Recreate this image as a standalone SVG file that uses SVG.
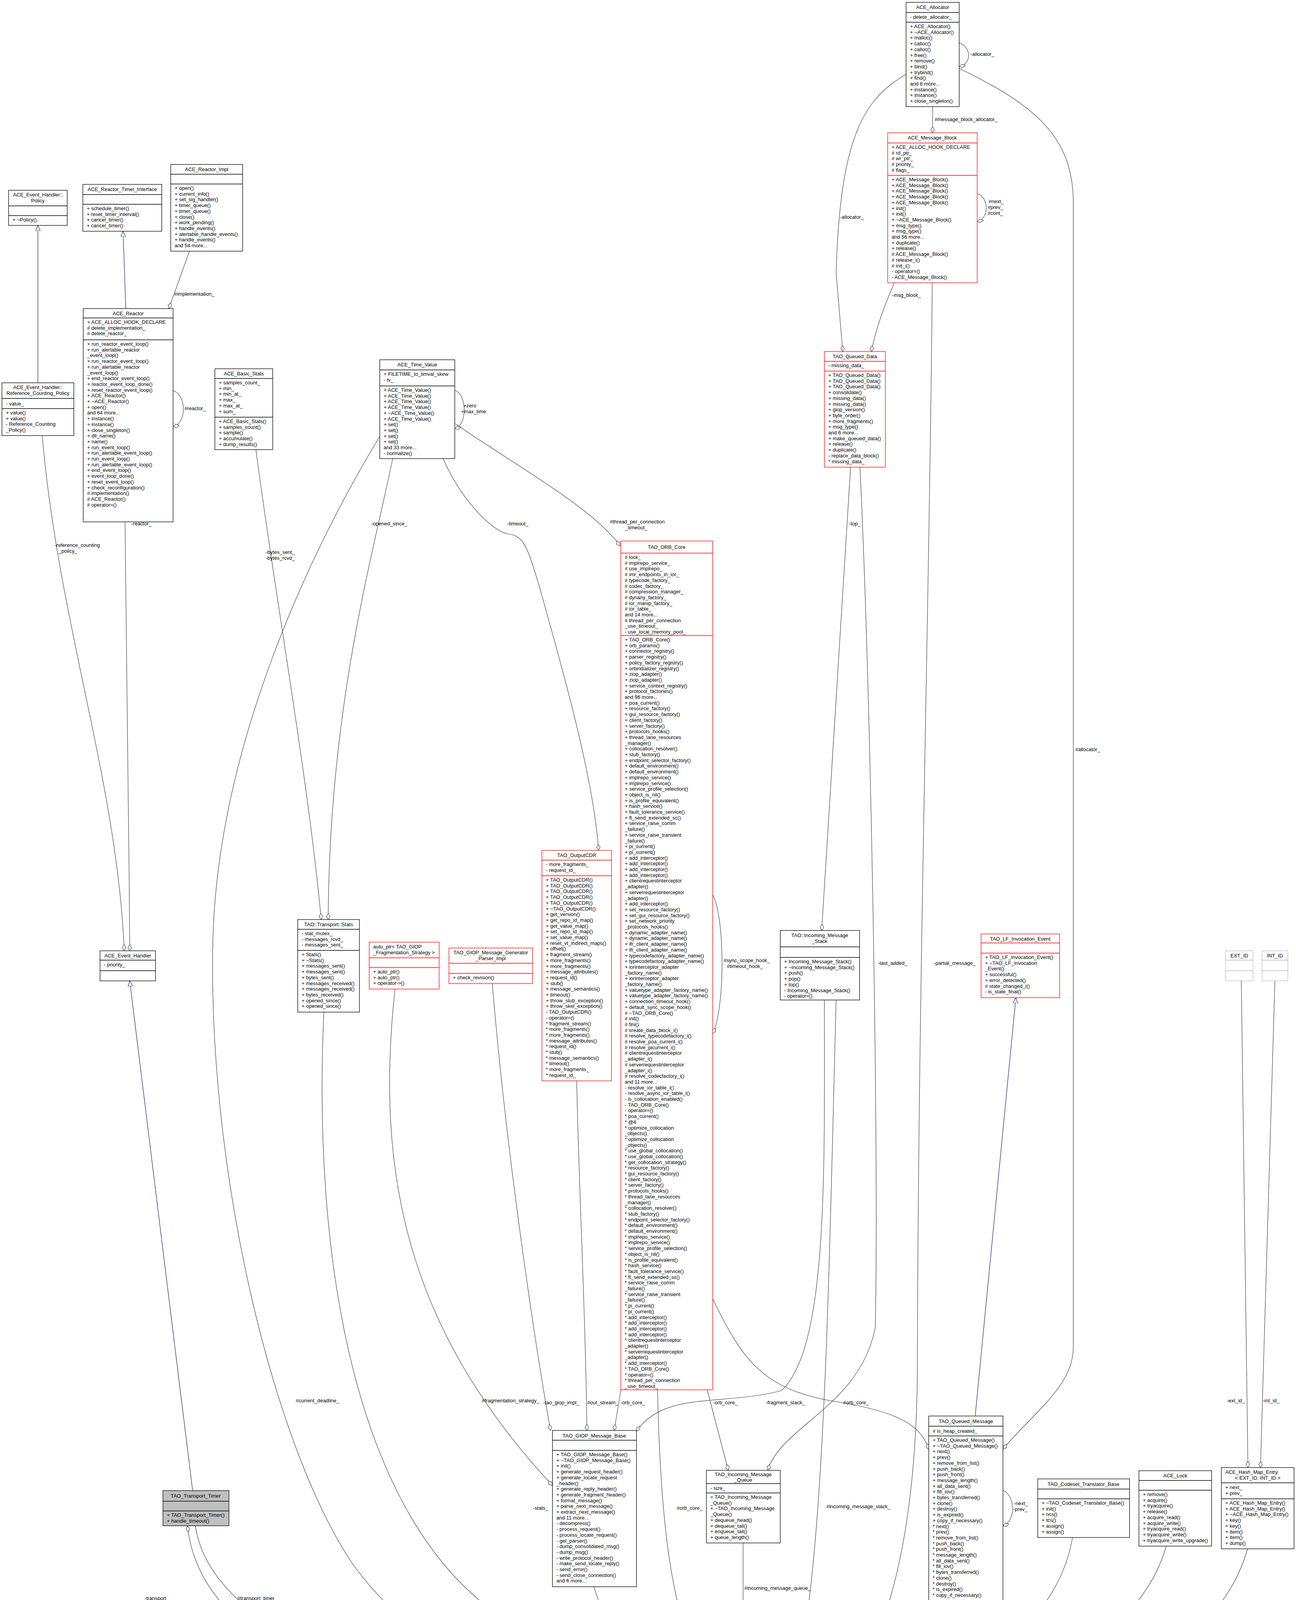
<svg xmlns="http://www.w3.org/2000/svg" width="3317" height="5019" viewBox="0 0 3317 5019">
<defs>
<style>
.b{fill:#fff;stroke:#000;stroke-width:1.3}
.r{fill:#fff;stroke:#ff0000;stroke-width:1.3}
.g{fill:#fff;stroke:#bfbfbf;stroke-width:1.3}
.tg{fill:#bfbfbf;stroke:#000;stroke-width:1.3}
.sb{fill:none;stroke:#000;stroke-width:1.3}
.sr{fill:none;stroke:#ff0000;stroke-width:1.3}
.sg{fill:none;stroke:#bfbfbf;stroke-width:1.3}
text{font-family:"Liberation Sans",Arial,sans-serif;font-size:13px;fill:#000}
.c{text-anchor:middle}
.e{fill:none;stroke:#404040;stroke-width:1.2;marker-end:url(#dia)}
.i{fill:none;stroke:#191970;stroke-width:1.2;marker-end:url(#tri)}
</style>
<marker id="dia" markerUnits="userSpaceOnUse" markerWidth="20" markerHeight="12" refX="16" refY="6" orient="auto"><path d="M0,6 L8,1.5 L16,6 L8,10.5 Z" fill="#fff" stroke="#404040" stroke-width="1.2"/></marker>
<marker id="tri" markerUnits="userSpaceOnUse" markerWidth="16" markerHeight="14" refX="14" refY="7" orient="auto"><path d="M0,1 L14,7 L0,13 Z" fill="#fff" stroke="#191970" stroke-width="1.2"/></marker>
</defs>
<rect width="3317" height="5019" fill="#fff"/>

<g id="connectors">
<path class="i" d="M97,980 L97,577"/>
<path class="i" d="M322,790 L315,592"/>
<path class="i" d="M493,3816 L332,2511"/>
<path class="i" d="M2496,3624 L2600,2554"/>
<path class="e" d="M485,643 L432,790"/>
<text x="446" y="757">#implementation_</text>
<path class="e" d="M443,1000 C478,1010 478,1085 443,1092"/>
<text x="472" y="1050">#reactor_</text>
<path class="e" d="M108,1115 C150,1600 300,2000 318,2434"/>
<text x="140" y="1400">-reference_counting</text><text x="150" y="1415">_policy_</text>
<path class="e" d="M320,1336 C325,1800 330,2100 332,2434"/>
<text x="336" y="1345">-reactor_</text>
<path class="e" d="M655,1151 C700,1500 790,2000 822,2354"/>
<text x="680" y="1418">-bytes_sent_</text><text x="680" y="1433">-bytes_rcvd_</text>
<path class="e" d="M1005,1174 C960,1400 842,1800 840,2354"/>
<text x="950" y="1345">-opened_since_</text>
<path class="e" d="M1164,999 C1196,1010 1196,1090 1164,1097"/>
<text x="1186" y="1043">+zero</text><text x="1180" y="1058">+max_time</text>
<path class="e" d="M972,1117 C800,1400 560,1900 545,2400 C530,3000 700,3700 900,4000 C1150,4350 1600,4420 1800,4430"/>
<text x="757" y="3590">#current_deadline_</text>
<path class="e" d="M1134,1174 C1180,1280 1260,1360 1300,1367 C1340,1370 1350,1400 1380,1500 C1450,1750 1520,2000 1532,2177"/>
<text x="1298" y="1345">-timeout_</text>
<path class="e" d="M1166,1085 C1300,1180 1520,1300 1587,1398"/>
<text x="1561" y="1340">#thread_per_connection</text><text x="1600" y="1355">_timeout_</text>
<path class="e" d="M1476,2767 C1480,3000 1500,3400 1502,3662"/>
<text x="1503" y="3595">#out_stream_</text>
<path class="e" d="M1260,2518 C1300,3000 1380,3500 1409,3662"/>
<text x="1390" y="3595">-tao_giop_impl_</text>
<path class="e" d="M1011,2532 C960,3000 1040,3400 1414,3803"/>
<text x="1233" y="3590">#fragmentation_strategy_</text>
<path class="e" d="M1589,3558 L1572,3662"/>
<text x="1588" y="3595">-orb_core_</text>
<path class="e" d="M2110,2560 C2110,3000 2120,3450 2000,3560 C1850,3600 1700,3560 1629,3664"/>
<text x="1960" y="3595">-fragment_stack_</text>
<path class="e" d="M1810,3558 L1864,3764"/>
<text x="1825" y="3595">-orb_core_</text>
<path class="e" d="M2201,1196 C2230,1800 2250,3000 2240,3400 C2200,3600 2000,3650 1965,3764"/>
<text x="2247" y="2470">-last_added_</text>
<path class="e" d="M2177,1196 L2103,2382"/>
<text x="2173" y="1345">-top_</text>
<path class="e" d="M2289,724 C2260,790 2240,850 2230,900"/>
<text x="2283" y="760">-msg_block_</text>
<path class="e" d="M2319,190 C2220,250 2150,330 2140,700 L2157,900"/>
<text x="2150" y="560">-allocator_</text>
<path class="e" d="M2455,110 C2487,120 2487,165 2455,170"/>
<text x="2484" y="143">-allocator_</text>
<path class="e" d="M2387,273 L2387,340"/>
<text x="2392" y="310">#message_block_allocator_</text>
<path class="e" d="M2501,496 C2532,505 2532,560 2501,567"/>
<text x="2530" y="520">#next_</text><text x="2528" y="535">#prev_</text><text x="2528" y="550">#cont_</text>
<path class="e" d="M2455,175 C2650,270 2747,350 2747,520 L2747,3450 C2747,3550 2640,3620 2567,3710"/>
<text x="2752" y="1923">#allocator_</text>
<path class="e" d="M2386,724 C2380,1500 2350,2500 2348,3500 C2345,4100 2200,4400 2005,4430"/>
<text x="2390" y="2470">-partial_message_</text>
<path class="e" d="M1824,2290 C1856,2350 1856,2580 1824,2646"/>
<text x="1852" y="2463">#sync_scope_hook_</text><text x="1860" y="2478">#timeout_hook_</text>
<path class="e" d="M1824,3325 C1900,3480 1950,3560 2150,3590 C2300,3615 2360,3650 2377,3711"/>
<text x="2158" y="3595">#orb_core_</text>
<path class="e" d="M2140,2560 C2120,3300 2110,4200 2005,4374"/>
<text x="2115" y="3861">#incoming_message_stack_</text>
<path class="e" d="M1902,3950 L1902,4177"/>
<text x="1905" y="4070">#incoming_message_queue_</text>
<path class="e" d="M1683,3558 C1690,3900 1720,4150 1800,4269"/>
<text x="1732" y="3865">#orb_core_</text>
<path class="e" d="M1520,4062 C1560,4200 1700,4340 1800,4372"/>
<text x="1560" y="4165">-messaging_object_</text>
<path class="e" d="M829,2591 C800,3200 900,3900 1300,4150 C1500,4280 1700,4370 1800,4386"/>
<text x="1364" y="3865">-stats_</text>
<path class="e" d="M500,3906 C550,4250 1300,4430 1800,4430"/>
<text x="608" y="4096">#transport_timer_</text>
<path class="e" d="M1800,4430 C1200,4440 520,4300 480,3906"/>
<text x="370" y="4096">-transport_</text>
<path class="e" d="M2394,4097 C2300,4250 2150,4280 2005,4297"/>
<text x="2378" y="4131">#tail_</text><text x="2371" y="4146">#head_</text>
<path class="e" d="M2745,3936 C2700,4200 2400,4370 2005,4394"/>
<text x="2612" y="4131">-char_translator_</text><text x="2612" y="4146">-wchar_translator_</text>
<path class="e" d="M2985,3958 C2900,4250 2500,4400 2005,4413"/>
<text x="2864" y="4138">#handler_lock_</text>
<path class="e" d="M3193,3965 C3100,4300 2600,4440 2005,4441"/>
<text x="3065" y="4138">#cache_map_entry_</text>
<path class="e" d="M3177,2511 L3194,3757"/>
<text x="3140" y="3590">-ext_id_</text>
<path class="e" d="M3263,2511 L3226,3757"/>
<text x="3232" y="3590">-int_id_</text>
<path class="e" d="M1800,4630 C1770,4680 1760,4740 1762,4782"/>
<text x="1770" y="4745">#transport_</text>
<path class="e" d="M1830,4782 C1840,4760 1845,4730 1848,4707"/>
<text x="1847" y="4745">#ws_</text>
<path class="e" d="M1920,4707 C1925,4730 1935,4755 1938,4775"/>
<text x="1937" y="4745">#transport_</text>
<path class="e" d="M2013,4775 C2010,4750 2006,4725 2002,4707"/>
<text x="2012" y="4745">#tms_</text>
</g>

<g id="policy"><rect class="b" x="22" y="487" width="150" height="90"/><path class="sb" d="M22,527H172M22,552H172"/>
<text class="c" x="97" y="503">ACE_Event_Handler::</text><text class="c" x="97" y="518">Policy</text>
<text x="32" y="567">+ ~Policy()</text></g>

<g id="timer_interface"><rect class="b" x="212" y="472" width="202" height="120"/><path class="sb" d="M212,498H414M212,523H414"/>
<text class="c" x="313" y="489">ACE_Reactor_Timer_Interface</text>
<text x="222" y="538"><tspan x="222" dy="0">+ schedule_timer()</tspan><tspan x="222" dy="14.7">+ reset_timer_interval()</tspan><tspan x="222" dy="14.7">+ cancel_timer()</tspan><tspan x="222" dy="14.7">+ cancel_timer()</tspan></text></g>

<g id="reactor_impl"><rect class="b" x="437" y="421" width="184" height="222"/><path class="sb" d="M437,446H621M437,471H621"/>
<text class="c" x="529" y="438">ACE_Reactor_Impl</text>
<text x="447" y="486"><tspan x="447" dy="0">+ open()</tspan><tspan x="447" dy="14.7">+ current_info()</tspan><tspan x="447" dy="14.7">+ set_sig_handler()</tspan><tspan x="447" dy="14.7">+ timer_queue()</tspan><tspan x="447" dy="14.7">+ timer_queue()</tspan><tspan x="447" dy="14.7">+ close()</tspan><tspan x="447" dy="14.7">+ work_pending()</tspan><tspan x="447" dy="14.7">+ handle_events()</tspan><tspan x="447" dy="14.7">+ alertable_handle_events()</tspan><tspan x="447" dy="14.7">+ handle_events()</tspan><tspan x="447" dy="14.7">and 54 more...</tspan></text></g>

<g id="ace_reactor"><rect class="b" x="213" y="790" width="230" height="546"/><path class="sb" d="M213,814H443M213,870H443"/>
<text class="c" x="328" y="807">ACE_Reactor</text>
<text x="223" y="829"><tspan x="223" dy="0">+ ACE_ALLOC_HOOK_DECLARE</tspan><tspan x="223" dy="14.7"># delete_implementation_</tspan><tspan x="223" dy="14.7"># delete_reactor_</tspan></text>
<text x="223" y="885"><tspan x="223" dy="0">+ run_reactor_event_loop()</tspan><tspan x="223" dy="14.7">+ run_alertable_reactor</tspan><tspan x="223" dy="14.7">_event_loop()</tspan><tspan x="223" dy="14.7">+ run_reactor_event_loop()</tspan><tspan x="223" dy="14.7">+ run_alertable_reactor</tspan><tspan x="223" dy="14.7">_event_loop()</tspan><tspan x="223" dy="14.7">+ end_reactor_event_loop()</tspan><tspan x="223" dy="14.7">+ reactor_event_loop_done()</tspan><tspan x="223" dy="14.7">+ reset_reactor_event_loop()</tspan><tspan x="223" dy="14.7">+ ACE_Reactor()</tspan><tspan x="223" dy="14.7">+ ~ACE_Reactor()</tspan><tspan x="223" dy="14.7">+ open()</tspan><tspan x="223" dy="14.7">and 64 more...</tspan><tspan x="223" dy="14.7">+ instance()</tspan><tspan x="223" dy="14.7">+ instance()</tspan><tspan x="223" dy="14.7">+ close_singleton()</tspan><tspan x="223" dy="14.7">+ dll_name()</tspan><tspan x="223" dy="14.7">+ name()</tspan><tspan x="223" dy="14.7">+ run_event_loop()</tspan><tspan x="223" dy="14.7">+ run_alertable_event_loop()</tspan><tspan x="223" dy="14.7">+ run_event_loop()</tspan><tspan x="223" dy="14.7">+ run_alertable_event_loop()</tspan><tspan x="223" dy="14.7">+ end_event_loop()</tspan><tspan x="223" dy="14.7">+ event_loop_done()</tspan><tspan x="223" dy="14.7">+ reset_event_loop()</tspan><tspan x="223" dy="14.7">+ check_reconfiguration()</tspan><tspan x="223" dy="14.7"># implementation()</tspan><tspan x="223" dy="14.7"># ACE_Reactor()</tspan><tspan x="223" dy="14.7"># operator=()</tspan></text></g>

<g id="ref_counting_policy"><rect class="b" x="5" y="980" width="184" height="135"/><path class="sb" d="M5,1020H189M5,1046H189"/>
<text class="c" x="97" y="996">ACE_Event_Handler::</text><text class="c" x="97" y="1011">Reference_Counting_Policy</text>
<text x="15" y="1038">- value_</text>
<text x="15" y="1061"><tspan x="15" dy="0">+ value()</tspan><tspan x="15" dy="14.7">+ value()</tspan><tspan x="15" dy="14.7">- Reference_Counting</tspan><tspan x="15" dy="14.7">_Policy()</tspan></text></g>

<g id="basic_stats"><rect class="b" x="550" y="944" width="148" height="207"/><path class="sb" d="M550,969H698M550,1068H698"/>
<text class="c" x="624" y="961">ACE_Basic_Stats</text>
<text x="560" y="984"><tspan x="560" dy="0">+ samples_count_</tspan><tspan x="560" dy="14.7">+ min_</tspan><tspan x="560" dy="14.7">+ min_at_</tspan><tspan x="560" dy="14.7">+ max_</tspan><tspan x="560" dy="14.7">+ max_at_</tspan><tspan x="560" dy="14.7">+ sum_</tspan></text>
<text x="560" y="1083"><tspan x="560" dy="0">+ ACE_Basic_Stats()</tspan><tspan x="560" dy="14.7">+ samples_count()</tspan><tspan x="560" dy="14.7">+ sample()</tspan><tspan x="560" dy="14.7">+ accumulate()</tspan><tspan x="560" dy="14.7">+ dump_results()</tspan></text></g>

<g id="time_value"><rect class="b" x="972" y="921" width="192" height="253"/><path class="sb" d="M972,947H1164M972,988H1164"/>
<text class="c" x="1068" y="938">ACE_Time_Value</text>
<text x="982" y="962"><tspan x="982" dy="0">+ FILETIME_to_timval_skew</tspan><tspan x="982" dy="14.7">- tv_</tspan></text>
<text x="982" y="1003"><tspan x="982" dy="0">+ ACE_Time_Value()</tspan><tspan x="982" dy="14.7">+ ACE_Time_Value()</tspan><tspan x="982" dy="14.7">+ ACE_Time_Value()</tspan><tspan x="982" dy="14.7">+ ACE_Time_Value()</tspan><tspan x="982" dy="14.7">+ ~ACE_Time_Value()</tspan><tspan x="982" dy="14.7">+ ACE_Time_Value()</tspan><tspan x="982" dy="14.7">+ set()</tspan><tspan x="982" dy="14.7">+ set()</tspan><tspan x="982" dy="14.7">+ set()</tspan><tspan x="982" dy="14.7">+ set()</tspan><tspan x="982" dy="14.7">and 33 more...</tspan><tspan x="982" dy="14.7">- normalize()</tspan></text></g>

<g id="allocator"><rect class="b" x="2319" y="6" width="136" height="267"/><path class="sb" d="M2319,32H2455M2319,57H2455"/>
<text class="c" x="2387" y="23">ACE_Allocator</text>
<text x="2329" y="48">- delete_allocator_</text>
<text x="2329" y="72"><tspan x="2329" dy="0">+ ACE_Allocator()</tspan><tspan x="2329" dy="14.7">+ ~ACE_Allocator()</tspan><tspan x="2329" dy="14.7">+ malloc()</tspan><tspan x="2329" dy="14.7">+ calloc()</tspan><tspan x="2329" dy="14.7">+ calloc()</tspan><tspan x="2329" dy="14.7">+ free()</tspan><tspan x="2329" dy="14.7">+ remove()</tspan><tspan x="2329" dy="14.7">+ bind()</tspan><tspan x="2329" dy="14.7">+ trybind()</tspan><tspan x="2329" dy="14.7">+ find()</tspan><tspan x="2329" dy="14.7">and 8 more...</tspan><tspan x="2329" dy="14.7">+ instance()</tspan><tspan x="2329" dy="14.7">+ instance()</tspan><tspan x="2329" dy="14.7">+ close_singleton()</tspan></text></g>

<g id="message_block"><rect class="r" x="2272" y="340" width="229" height="384"/><path class="sr" d="M2272,366H2501M2272,449H2501"/>
<text class="c" x="2386" y="357">ACE_Message_Block</text>
<text x="2282" y="381"><tspan x="2282" dy="0">+ ACE_ALLOC_HOOK_DECLARE</tspan><tspan x="2282" dy="14.7"># rd_ptr_</tspan><tspan x="2282" dy="14.7"># wr_ptr_</tspan><tspan x="2282" dy="14.7"># priority_</tspan><tspan x="2282" dy="14.7"># flags_</tspan></text>
<text x="2282" y="464"><tspan x="2282" dy="0">+ ACE_Message_Block()</tspan><tspan x="2282" dy="14.7">+ ACE_Message_Block()</tspan><tspan x="2282" dy="14.7">+ ACE_Message_Block()</tspan><tspan x="2282" dy="14.7">+ ACE_Message_Block()</tspan><tspan x="2282" dy="14.7">+ ACE_Message_Block()</tspan><tspan x="2282" dy="14.7">+ init()</tspan><tspan x="2282" dy="14.7">+ init()</tspan><tspan x="2282" dy="14.7">+ ~ACE_Message_Block()</tspan><tspan x="2282" dy="14.7">+ msg_type()</tspan><tspan x="2282" dy="14.7">+ msg_type()</tspan><tspan x="2282" dy="14.7">and 56 more...</tspan><tspan x="2282" dy="14.7">+ duplicate()</tspan><tspan x="2282" dy="14.7">+ release()</tspan><tspan x="2282" dy="14.7"># ACE_Message_Block()</tspan><tspan x="2282" dy="14.7"># release_i()</tspan><tspan x="2282" dy="14.7"># init_i()</tspan><tspan x="2282" dy="14.7">- operator=()</tspan><tspan x="2282" dy="14.7">- ACE_Message_Block()</tspan></text></g>

<g id="queued_data"><rect class="r" x="2110" y="900" width="156" height="296"/><path class="sr" d="M2110,925H2266M2110,950H2266"/>
<text class="c" x="2188" y="917">TAO_Queued_Data</text>
<text x="2120" y="940">- missing_data_</text>
<text x="2120" y="965"><tspan x="2120" dy="0">+ TAO_Queued_Data()</tspan><tspan x="2120" dy="14.7">+ TAO_Queued_Data()</tspan><tspan x="2120" dy="14.7">+ TAO_Queued_Data()</tspan><tspan x="2120" dy="14.7">+ consolidate()</tspan><tspan x="2120" dy="14.7">+ missing_data()</tspan><tspan x="2120" dy="14.7">+ missing_data()</tspan><tspan x="2120" dy="14.7">+ giop_version()</tspan><tspan x="2120" dy="14.7">+ byte_order()</tspan><tspan x="2120" dy="14.7">+ more_fragments()</tspan><tspan x="2120" dy="14.7">+ msg_type()</tspan><tspan x="2120" dy="14.7">and 6 more...</tspan><tspan x="2120" dy="14.7">+ make_queued_data()</tspan><tspan x="2120" dy="14.7">+ release()</tspan><tspan x="2120" dy="14.7">+ duplicate()</tspan><tspan x="2120" dy="14.7">- replace_data_block()</tspan><tspan x="2120" dy="14.7">* missing_data_</tspan></text></g>

<g id="orb_core"><rect class="r" x="1589" y="1385" width="235" height="2173"/><path class="sr" d="M1589,1416H1824M1589,1627H1824"/>
<text class="c" x="1706" y="1405">TAO_ORB_Core</text>
<text x="1599" y="1431"><tspan x="1599" dy="0"># lock_</tspan><tspan x="1599" dy="14.7"># implrepo_service_</tspan><tspan x="1599" dy="14.7"># use_implrepo_</tspan><tspan x="1599" dy="14.7"># imr_endpoints_in_ior_</tspan><tspan x="1599" dy="14.7"># typecode_factory_</tspan><tspan x="1599" dy="14.7"># codec_factory_</tspan><tspan x="1599" dy="14.7"># compression_manager_</tspan><tspan x="1599" dy="14.7"># dynany_factory_</tspan><tspan x="1599" dy="14.7"># ior_manip_factory_</tspan><tspan x="1599" dy="14.7"># ior_table_</tspan><tspan x="1599" dy="14.7">and 14 more...</tspan><tspan x="1599" dy="14.7"># thread_per_connection</tspan><tspan x="1599" dy="14.7">_use_timeout_</tspan><tspan x="1599" dy="14.7">- use_local_memory_pool_</tspan></text>
<text x="1599" y="1642"><tspan x="1599" dy="0">+ TAO_ORB_Core()</tspan><tspan x="1599" dy="14.7">+ orb_params()</tspan><tspan x="1599" dy="14.7">+ connector_registry()</tspan><tspan x="1599" dy="14.7">+ parser_registry()</tspan><tspan x="1599" dy="14.7">+ policy_factory_registry()</tspan><tspan x="1599" dy="14.7">+ orbinitializer_registry()</tspan><tspan x="1599" dy="14.7">+ ziop_adapter()</tspan><tspan x="1599" dy="14.7">+ ziop_adapter()</tspan><tspan x="1599" dy="14.7">+ service_context_registry()</tspan><tspan x="1599" dy="14.7">+ protocol_factories()</tspan><tspan x="1599" dy="14.7">and 96 more...</tspan><tspan x="1599" dy="14.7">+ poa_current()</tspan><tspan x="1599" dy="14.7">+ resource_factory()</tspan><tspan x="1599" dy="14.7">+ gui_resource_factory()</tspan><tspan x="1599" dy="14.7">+ client_factory()</tspan><tspan x="1599" dy="14.7">+ server_factory()</tspan><tspan x="1599" dy="14.7">+ protocols_hooks()</tspan><tspan x="1599" dy="14.7">+ thread_lane_resources</tspan><tspan x="1599" dy="14.7">_manager()</tspan><tspan x="1599" dy="14.7">+ collocation_resolver()</tspan><tspan x="1599" dy="14.7">+ stub_factory()</tspan><tspan x="1599" dy="14.7">+ endpoint_selector_factory()</tspan><tspan x="1599" dy="14.7">+ default_environment()</tspan><tspan x="1599" dy="14.7">+ default_environment()</tspan><tspan x="1599" dy="14.7">+ implrepo_service()</tspan><tspan x="1599" dy="14.7">+ implrepo_service()</tspan><tspan x="1599" dy="14.7">+ service_profile_selection()</tspan><tspan x="1599" dy="14.7">+ object_is_nil()</tspan><tspan x="1599" dy="14.7">+ is_profile_equivalent()</tspan><tspan x="1599" dy="14.7">+ hash_service()</tspan><tspan x="1599" dy="14.7">+ fault_tolerance_service()</tspan><tspan x="1599" dy="14.7">+ ft_send_extended_sc()</tspan><tspan x="1599" dy="14.7">+ service_raise_comm</tspan><tspan x="1599" dy="14.7">_failure()</tspan><tspan x="1599" dy="14.7">+ service_raise_transient</tspan><tspan x="1599" dy="14.7">_failure()</tspan><tspan x="1599" dy="14.7">+ pi_current()</tspan><tspan x="1599" dy="14.7">+ pi_current()</tspan><tspan x="1599" dy="14.7">+ add_interceptor()</tspan><tspan x="1599" dy="14.7">+ add_interceptor()</tspan><tspan x="1599" dy="14.7">+ add_interceptor()</tspan><tspan x="1599" dy="14.7">+ add_interceptor()</tspan><tspan x="1599" dy="14.7">+ clientrequestinterceptor</tspan><tspan x="1599" dy="14.7">_adapter()</tspan><tspan x="1599" dy="14.7">+ serverrequestinterceptor</tspan><tspan x="1599" dy="14.7">_adapter()</tspan><tspan x="1599" dy="14.7">+ add_interceptor()</tspan><tspan x="1599" dy="14.7">+ set_resource_factory()</tspan><tspan x="1599" dy="14.7">+ set_gui_resource_factory()</tspan><tspan x="1599" dy="14.7">+ set_network_priority</tspan><tspan x="1599" dy="14.7">_protocols_hooks()</tspan><tspan x="1599" dy="14.7">+ dynamic_adapter_name()</tspan><tspan x="1599" dy="14.7">+ dynamic_adapter_name()</tspan><tspan x="1599" dy="14.7">+ ifr_client_adapter_name()</tspan><tspan x="1599" dy="14.7">+ ifr_client_adapter_name()</tspan><tspan x="1599" dy="14.7">+ typecodefactory_adapter_name()</tspan><tspan x="1599" dy="14.7">+ typecodefactory_adapter_name()</tspan><tspan x="1599" dy="14.7">+ iorinterceptor_adapter</tspan><tspan x="1599" dy="14.7">_factory_name()</tspan><tspan x="1599" dy="14.7">+ iorinterceptor_adapter</tspan><tspan x="1599" dy="14.7">_factory_name()</tspan><tspan x="1599" dy="14.7">+ valuetype_adapter_factory_name()</tspan><tspan x="1599" dy="14.7">+ valuetype_adapter_factory_name()</tspan><tspan x="1599" dy="14.7">+ connection_timeout_hook()</tspan><tspan x="1599" dy="14.7">+ default_sync_scope_hook()</tspan><tspan x="1599" dy="14.7"># ~TAO_ORB_Core()</tspan><tspan x="1599" dy="14.7"># init()</tspan><tspan x="1599" dy="14.7"># fini()</tspan><tspan x="1599" dy="14.7"># create_data_block_i()</tspan><tspan x="1599" dy="14.7"># resolve_typecodefactory_i()</tspan><tspan x="1599" dy="14.7"># resolve_poa_current_i()</tspan><tspan x="1599" dy="14.7"># resolve_picurrent_i()</tspan><tspan x="1599" dy="14.7"># clientrequestinterceptor</tspan><tspan x="1599" dy="14.7">_adapter_i()</tspan><tspan x="1599" dy="14.7"># serverrequestinterceptor</tspan><tspan x="1599" dy="14.7">_adapter_i()</tspan><tspan x="1599" dy="14.7"># resolve_codecfactory_i()</tspan><tspan x="1599" dy="14.7">and 11 more...</tspan><tspan x="1599" dy="14.7">- resolve_ior_table_i()</tspan><tspan x="1599" dy="14.7">- resolve_async_ior_table_i()</tspan><tspan x="1599" dy="14.7">- is_collocation_enabled()</tspan><tspan x="1599" dy="14.7">- TAO_ORB_Core()</tspan><tspan x="1599" dy="14.7">- operator=()</tspan><tspan x="1599" dy="14.7">* poa_current()</tspan><tspan x="1599" dy="14.7">* @4</tspan><tspan x="1599" dy="14.7">* optimize_collocation</tspan><tspan x="1599" dy="14.7">_objects()</tspan><tspan x="1599" dy="14.7">* optimize_collocation</tspan><tspan x="1599" dy="14.7">_objects()</tspan><tspan x="1599" dy="14.7">* use_global_collocation()</tspan><tspan x="1599" dy="14.7">* use_global_collocation()</tspan><tspan x="1599" dy="14.7">* get_collocation_strategy()</tspan><tspan x="1599" dy="14.7">* resource_factory()</tspan><tspan x="1599" dy="14.7">* gui_resource_factory()</tspan><tspan x="1599" dy="14.7">* client_factory()</tspan><tspan x="1599" dy="14.7">* server_factory()</tspan><tspan x="1599" dy="14.7">* protocols_hooks()</tspan><tspan x="1599" dy="14.7">* thread_lane_resources</tspan><tspan x="1599" dy="14.7">_manager()</tspan><tspan x="1599" dy="14.7">* collocation_resolver()</tspan><tspan x="1599" dy="14.7">* stub_factory()</tspan><tspan x="1599" dy="14.7">* endpoint_selector_factory()</tspan><tspan x="1599" dy="14.7">* default_environment()</tspan><tspan x="1599" dy="14.7">* default_environment()</tspan><tspan x="1599" dy="14.7">* implrepo_service()</tspan><tspan x="1599" dy="14.7">* implrepo_service()</tspan><tspan x="1599" dy="14.7">* service_profile_selection()</tspan><tspan x="1599" dy="14.7">* object_is_nil()</tspan><tspan x="1599" dy="14.7">* is_profile_equivalent()</tspan><tspan x="1599" dy="14.7">* hash_service()</tspan><tspan x="1599" dy="14.7">* fault_tolerance_service()</tspan><tspan x="1599" dy="14.7">* ft_send_extended_sc()</tspan><tspan x="1599" dy="14.7">* service_raise_comm</tspan><tspan x="1599" dy="14.7">_failure()</tspan><tspan x="1599" dy="14.7">* service_raise_transient</tspan><tspan x="1599" dy="14.7">_failure()</tspan><tspan x="1599" dy="14.7">* pi_current()</tspan><tspan x="1599" dy="14.7">* pi_current()</tspan><tspan x="1599" dy="14.7">* add_interceptor()</tspan><tspan x="1599" dy="14.7">* add_interceptor()</tspan><tspan x="1599" dy="14.7">* add_interceptor()</tspan><tspan x="1599" dy="14.7">* add_interceptor()</tspan><tspan x="1599" dy="14.7">* clientrequestinterceptor</tspan><tspan x="1599" dy="14.7">_adapter()</tspan><tspan x="1599" dy="14.7">* serverrequestinterceptor</tspan><tspan x="1599" dy="14.7">_adapter()</tspan><tspan x="1599" dy="14.7">* add_interceptor()</tspan><tspan x="1599" dy="14.7">* TAO_ORB_Core()</tspan><tspan x="1599" dy="14.7">* operator=()</tspan><tspan x="1599" dy="14.7">* thread_per_connection</tspan><tspan x="1599" dy="14.7">_use_timeout_</tspan></text></g>

<g id="output_cdr"><rect class="r" x="1387" y="2177" width="178" height="590"/><path class="sr" d="M1387,2202H1565M1387,2242H1565"/>
<text class="c" x="1476" y="2194">TAO_OutputCDR</text>
<text x="1397" y="2217"><tspan x="1397" dy="0">- more_fragments_</tspan><tspan x="1397" dy="14.7">- request_id_</tspan></text>
<text x="1397" y="2257"><tspan x="1397" dy="0">+ TAO_OutputCDR()</tspan><tspan x="1397" dy="14.7">+ TAO_OutputCDR()</tspan><tspan x="1397" dy="14.7">+ TAO_OutputCDR()</tspan><tspan x="1397" dy="14.7">+ TAO_OutputCDR()</tspan><tspan x="1397" dy="14.7">+ TAO_OutputCDR()</tspan><tspan x="1397" dy="14.7">+ ~TAO_OutputCDR()</tspan><tspan x="1397" dy="14.7">+ get_version()</tspan><tspan x="1397" dy="14.7">+ get_repo_id_map()</tspan><tspan x="1397" dy="14.7">+ get_value_map()</tspan><tspan x="1397" dy="14.7">+ set_repo_id_map()</tspan><tspan x="1397" dy="14.7">+ set_value_map()</tspan><tspan x="1397" dy="14.7">+ reset_vt_indirect_maps()</tspan><tspan x="1397" dy="14.7">+ offset()</tspan><tspan x="1397" dy="14.7">+ fragment_stream()</tspan><tspan x="1397" dy="14.7">+ more_fragments()</tspan><tspan x="1397" dy="14.7">+ more_fragments()</tspan><tspan x="1397" dy="14.7">+ message_attributes()</tspan><tspan x="1397" dy="14.7">+ request_id()</tspan><tspan x="1397" dy="14.7">+ stub()</tspan><tspan x="1397" dy="14.7">+ message_semantics()</tspan><tspan x="1397" dy="14.7">+ timeout()</tspan><tspan x="1397" dy="14.7">+ throw_stub_exception()</tspan><tspan x="1397" dy="14.7">+ throw_skel_exception()</tspan><tspan x="1397" dy="14.7">- TAO_OutputCDR()</tspan><tspan x="1397" dy="14.7">- operator=()</tspan><tspan x="1397" dy="14.7">* fragment_stream()</tspan><tspan x="1397" dy="14.7">* more_fragments()</tspan><tspan x="1397" dy="14.7">* more_fragments()</tspan><tspan x="1397" dy="14.7">* message_attributes()</tspan><tspan x="1397" dy="14.7">* request_id()</tspan><tspan x="1397" dy="14.7">* stub()</tspan><tspan x="1397" dy="14.7">* message_semantics()</tspan><tspan x="1397" dy="14.7">* timeout()</tspan><tspan x="1397" dy="14.7">* more_fragments_</tspan><tspan x="1397" dy="14.7">* request_id_</tspan></text></g>

<g id="transport_stats"><rect class="b" x="762" y="2354" width="158" height="237"/><path class="sb" d="M762,2379H920M762,2433H920"/>
<text class="c" x="841" y="2371">TAO::Transport::Stats</text>
<text x="772" y="2394"><tspan x="772" dy="0">- stat_mutex_</tspan><tspan x="772" dy="14.7">- messages_rcvd_</tspan><tspan x="772" dy="14.7">- messages_sent_</tspan></text>
<text x="772" y="2448"><tspan x="772" dy="0">+ Stats()</tspan><tspan x="772" dy="14.7">+ ~Stats()</tspan><tspan x="772" dy="14.7">+ messages_sent()</tspan><tspan x="772" dy="14.7">+ messages_sent()</tspan><tspan x="772" dy="14.7">+ bytes_sent()</tspan><tspan x="772" dy="14.7">+ messages_received()</tspan><tspan x="772" dy="14.7">+ messages_received()</tspan><tspan x="772" dy="14.7">+ bytes_received()</tspan><tspan x="772" dy="14.7">+ opened_since()</tspan><tspan x="772" dy="14.7">+ opened_since()</tspan></text></g>

<g id="auto_ptr"><rect class="r" x="945" y="2412" width="179" height="120"/><path class="sr" d="M945,2452H1124M945,2477H1124"/>
<text x="955" y="2428">auto_ptr&lt; TAO_GIOP</text><text x="955" y="2443">_Fragmentation_Strategy &gt;</text>
<text x="955" y="2492"><tspan x="955" dy="0">+ auto_ptr()</tspan><tspan x="955" dy="14.7">+ auto_ptr()</tspan><tspan x="955" dy="14.7">+ operator-&gt;()</tspan></text></g>

<g id="generator_parser"><rect class="r" x="1149" y="2427" width="214" height="91"/><path class="sr" d="M1149,2466H1363M1149,2492H1363"/>
<text class="c" x="1256" y="2443">TAO_GIOP_Message_Generator</text><text class="c" x="1256" y="2458">_Parser_Impl</text>
<text x="1159" y="2507">+ check_revision()</text></g>

<g id="event_handler"><rect class="b" x="256" y="2434" width="142" height="77"/><path class="sb" d="M256,2458H398M256,2485H398"/>
<text class="c" x="327" y="2451">ACE_Event_Handler</text>
<text x="266" y="2474">- priority_</text></g>

<g id="incoming_message_stack"><rect class="b" x="1997" y="2382" width="203" height="178"/><path class="sb" d="M1997,2424H2200M1997,2451H2200"/>
<text class="c" x="2098" y="2399">TAO::Incoming_Message</text><text class="c" x="2098" y="2414">_Stack</text>
<text x="2007" y="2466"><tspan x="2007" dy="0">+ Incoming_Message_Stack()</tspan><tspan x="2007" dy="14.7">+ ~Incoming_Message_Stack()</tspan><tspan x="2007" dy="14.7">+ push()</tspan><tspan x="2007" dy="14.7">+ pop()</tspan><tspan x="2007" dy="14.7">+ top()</tspan><tspan x="2007" dy="14.7">- Incoming_Message_Stack()</tspan><tspan x="2007" dy="14.7">- operator=()</tspan></text></g>

<g id="lf_invocation_event"><rect class="r" x="2511" y="2391" width="201" height="163"/><path class="sr" d="M2511,2414H2712M2511,2440H2712"/>
<text class="c" x="2611" y="2408">TAO_LF_Invocation_Event</text>
<text x="2521" y="2455"><tspan x="2521" dy="0">+ TAO_LF_Invocation_Event()</tspan><tspan x="2521" dy="14.7">+ ~TAO_LF_Invocation</tspan><tspan x="2521" dy="14.7">_Event()</tspan><tspan x="2521" dy="14.7">+ successful()</tspan><tspan x="2521" dy="14.7">+ error_detected()</tspan><tspan x="2521" dy="14.7"># state_changed_i()</tspan><tspan x="2521" dy="14.7">- is_state_final()</tspan></text></g>

<g id="ext_id"><rect class="g" x="3137" y="2434" width="70" height="77"/><path class="sg" d="M3137,2458H3207M3137,2485H3207"/>
<text class="c" x="3172" y="2451">EXT_ID</text></g>
<g id="int_id"><rect class="g" x="3230" y="2434" width="66" height="77"/><path class="sg" d="M3230,2458H3296M3230,2485H3296"/>
<text class="c" x="3263" y="2451">INT_ID</text></g>

<g id="giop_message_base"><rect class="b" x="1414" y="3662" width="215" height="400"/><path class="sb" d="M1414,3687H1629M1414,3713H1629"/>
<text class="c" x="1521" y="3680">TAO_GIOP_Message_Base</text>
<text x="1424" y="3728"><tspan x="1424" dy="0">+ TAO_GIOP_Message_Base()</tspan><tspan x="1424" dy="14.7">+ ~TAO_GIOP_Message_Base()</tspan><tspan x="1424" dy="14.7">+ init()</tspan><tspan x="1424" dy="14.7">+ generate_request_header()</tspan><tspan x="1424" dy="14.7">+ generate_locate_request</tspan><tspan x="1424" dy="14.7">_header()</tspan><tspan x="1424" dy="14.7">+ generate_reply_header()</tspan><tspan x="1424" dy="14.7">+ generate_fragment_header()</tspan><tspan x="1424" dy="14.7">+ format_message()</tspan><tspan x="1424" dy="14.7">+ parse_next_message()</tspan><tspan x="1424" dy="14.7">+ extract_next_message()</tspan><tspan x="1424" dy="14.7">and 11 more...</tspan><tspan x="1424" dy="14.7">- decompress()</tspan><tspan x="1424" dy="14.7">- process_request()</tspan><tspan x="1424" dy="14.7">- process_locate_request()</tspan><tspan x="1424" dy="14.7">- get_parser()</tspan><tspan x="1424" dy="14.7">- dump_consolidated_msg()</tspan><tspan x="1424" dy="14.7">- dump_msg()</tspan><tspan x="1424" dy="14.7">- write_protocol_header()</tspan><tspan x="1424" dy="14.7">- make_send_locate_reply()</tspan><tspan x="1424" dy="14.7">- send_error()</tspan><tspan x="1424" dy="14.7">- send_close_connection()</tspan><tspan x="1424" dy="14.7">and 6 more...</tspan></text></g>

<g id="incoming_message_queue"><rect class="b" x="1808" y="3764" width="189" height="186"/><path class="sb" d="M1808,3798H1997M1808,3822H1997"/>
<text class="c" x="1902" y="3779">TAO_Incoming_Message</text><text class="c" x="1902" y="3793">_Queue</text>
<text x="1818" y="3814">- size_</text>
<text x="1818" y="3837"><tspan x="1818" dy="0">+ TAO_Incoming_Message</tspan><tspan x="1818" dy="14.7">_Queue()</tspan><tspan x="1818" dy="14.7">+ ~TAO_Incoming_Message</tspan><tspan x="1818" dy="14.7">_Queue()</tspan><tspan x="1818" dy="14.7">+ dequeue_head()</tspan><tspan x="1818" dy="14.7">+ dequeue_tail()</tspan><tspan x="1818" dy="14.7">+ enqueue_tail()</tspan><tspan x="1818" dy="14.7">+ queue_length()</tspan></text></g>

<g id="transport_timer"><rect class="tg" x="417" y="3816" width="169" height="90"/><path class="sb" d="M417,3843H586M417,3868H586"/>
<text class="c" x="501" y="3834">TAO_Transport_Timer</text>
<text x="427" y="3883"><tspan x="427" dy="0">+ TAO_Transport_Timer()</tspan><tspan x="427" dy="14.7">+ handle_timeout()</tspan></text></g>

<g id="queued_message"><rect class="b" x="2377" y="3625" width="190" height="472"/><path class="sb" d="M2377,3651H2567M2377,3676H2567"/>
<text class="c" x="2472" y="3643">TAO_Queued_Message</text>
<text x="2387" y="3668"># is_heap_created_</text>
<text x="2387" y="3691"><tspan x="2387" dy="0">+ TAO_Queued_Message()</tspan><tspan x="2387" dy="14.7">+ ~TAO_Queued_Message()</tspan><tspan x="2387" dy="14.7">+ next()</tspan><tspan x="2387" dy="14.7">+ prev()</tspan><tspan x="2387" dy="14.7">+ remove_from_list()</tspan><tspan x="2387" dy="14.7">+ push_back()</tspan><tspan x="2387" dy="14.7">+ push_front()</tspan><tspan x="2387" dy="14.7">+ message_length()</tspan><tspan x="2387" dy="14.7">+ all_data_sent()</tspan><tspan x="2387" dy="14.7">+ fill_iov()</tspan><tspan x="2387" dy="14.7">+ bytes_transferred()</tspan><tspan x="2387" dy="14.7">+ clone()</tspan><tspan x="2387" dy="14.7">+ destroy()</tspan><tspan x="2387" dy="14.7">+ is_expired()</tspan><tspan x="2387" dy="14.7">+ copy_if_necessary()</tspan><tspan x="2387" dy="14.7">* next()</tspan><tspan x="2387" dy="14.7">* prev()</tspan><tspan x="2387" dy="14.7">* remove_from_list()</tspan><tspan x="2387" dy="14.7">* push_back()</tspan><tspan x="2387" dy="14.7">* push_front()</tspan><tspan x="2387" dy="14.7">* message_length()</tspan><tspan x="2387" dy="14.7">* all_data_sent()</tspan><tspan x="2387" dy="14.7">* fill_iov()</tspan><tspan x="2387" dy="14.7">* bytes_transferred()</tspan><tspan x="2387" dy="14.7">* clone()</tspan><tspan x="2387" dy="14.7">* destroy()</tspan><tspan x="2387" dy="14.7">* is_expired()</tspan><tspan x="2387" dy="14.7">* copy_if_necessary()</tspan></text>
<path class="e" d="M2567,3815 C2600,3830 2600,3895 2567,3906"/>
<text x="2595" y="3853">-next_</text><text x="2593" y="3868">-prev_</text></g>

<g id="codeset_translator"><rect class="b" x="2656" y="3786" width="235" height="150"/><path class="sb" d="M2656,3812H2891M2656,3837H2891"/>
<text class="c" x="2773" y="3804">TAO_Codeset_Translator_Base</text>
<text x="2666" y="3852"><tspan x="2666" dy="0">+ ~TAO_Codeset_Translator_Base()</tspan><tspan x="2666" dy="14.7">+ init()</tspan><tspan x="2666" dy="14.7">+ ncs()</tspan><tspan x="2666" dy="14.7">+ tcs()</tspan><tspan x="2666" dy="14.7">+ assign()</tspan><tspan x="2666" dy="14.7">+ assign()</tspan></text></g>

<g id="ace_lock"><rect class="b" x="2915" y="3765" width="186" height="193"/><path class="sb" d="M2915,3790H3101M2915,3815H3101"/>
<text class="c" x="3008" y="3782">ACE_Lock</text>
<text x="2925" y="3830"><tspan x="2925" dy="0">+ remove()</tspan><tspan x="2925" dy="14.7">+ acquire()</tspan><tspan x="2925" dy="14.7">+ tryacquire()</tspan><tspan x="2925" dy="14.7">+ release()</tspan><tspan x="2925" dy="14.7">+ acquire_read()</tspan><tspan x="2925" dy="14.7">+ acquire_write()</tspan><tspan x="2925" dy="14.7">+ tryacquire_read()</tspan><tspan x="2925" dy="14.7">+ tryacquire_write()</tspan><tspan x="2925" dy="14.7">+ tryacquire_write_upgrade()</tspan></text></g>

<g id="hash_map_entry"><rect class="b" x="3126" y="3757" width="186" height="208"/><path class="sb" d="M3126,3796H3312M3126,3837H3312"/>
<text x="3136" y="3773">ACE_Hash_Map_Entry</text><text class="c" x="3219" y="3788">&lt; EXT_ID, INT_ID &gt;</text>
<text x="3136" y="3812"><tspan x="3136" dy="0">+ next_</tspan><tspan x="3136" dy="14.7">+ prev_</tspan></text>
<text x="3136" y="3852"><tspan x="3136" dy="0">+ ACE_Hash_Map_Entry()</tspan><tspan x="3136" dy="14.7">+ ACE_Hash_Map_Entry()</tspan><tspan x="3136" dy="14.7">+ ~ACE_Hash_Map_Entry()</tspan><tspan x="3136" dy="14.7">+ key()</tspan><tspan x="3136" dy="14.7">+ key()</tspan><tspan x="3136" dy="14.7">+ item()</tspan><tspan x="3136" dy="14.7">+ item()</tspan><tspan x="3136" dy="14.7">+ dump()</tspan></text></g>

<g id="tao_transport"><rect class="b" x="1800" y="4177" width="205" height="530"/><path class="sb" d="M1800,4203H2005M1800,4228H2005"/>
<text class="c" x="1902" y="4195">TAO_Transport</text>
<text x="1810" y="4243"><tspan x="1810" dy="0">+ TAO_Transport()</tspan><tspan x="1810" dy="14.7">+ ~TAO_Transport()</tspan><tspan x="1810" dy="14.7">+ tag()</tspan><tspan x="1810" dy="14.7">+ orb_core()</tspan><tspan x="1810" dy="14.7">+ tms()</tspan><tspan x="1810" dy="14.7">+ wait_strategy()</tspan><tspan x="1810" dy="14.7">+ handle_output()</tspan><tspan x="1810" dy="14.7">+ bidirectional_flag()</tspan><tspan x="1810" dy="14.7">+ bidirectional_flag()</tspan><tspan x="1810" dy="14.7">+ cache_map_entry()</tspan><tspan x="1810" dy="14.7">and 15 more...</tspan><tspan x="1810" dy="14.7">+ idle_after_send()</tspan><tspan x="1810" dy="14.7">+ idle_after_reply()</tspan><tspan x="1810" dy="14.7">+ close_connection()</tspan><tspan x="1810" dy="14.7">* idle_after_send()</tspan><tspan x="1810" dy="14.7">* idle_after_reply()</tspan><tspan x="1810" dy="14.7">* close_connection()</tspan><tspan x="1810" dy="14.7">* TAO_Reactive_Flushing</tspan><tspan x="1810" dy="14.7">_Strategy</tspan><tspan x="1810" dy="14.7">* TAO_Leader_Follower</tspan><tspan x="1810" dy="14.7">_Flushing_Strategy</tspan><tspan x="1810" dy="14.7">* TAO_Thread_Per_Connection</tspan><tspan x="1810" dy="14.7">_Handler</tspan><tspan x="1810" dy="14.7">* tag_</tspan><tspan x="1810" dy="14.7">* bidirectional_flag_</tspan><tspan x="1810" dy="14.7">* opening_connection</tspan><tspan x="1810" dy="14.7">_role_</tspan><tspan x="1810" dy="14.7">* flush_timer_id_</tspan><tspan x="1810" dy="14.7">* id_</tspan><tspan x="1810" dy="14.7">* purging_order_</tspan><tspan x="1810" dy="14.7">* recv_buffer_size_</tspan><tspan x="1810" dy="14.7">and 86 more...</tspan></text></g>

<g id="wait_strategy"><rect class="b" x="1710" y="4782" width="167" height="222"/><path class="sb" d="M1710,4807H1877M1710,4832H1877"/>
<text class="c" x="1793" y="4799">TAO_Wait_Strategy</text>
<text x="1720" y="4823"># is_registered_</text>
<text x="1720" y="4847"><tspan x="1720" dy="0">+ TAO_Wait_Strategy()</tspan><tspan x="1720" dy="14.7">+ ~TAO_Wait_Strategy()</tspan><tspan x="1720" dy="14.7">+ sending_request()</tspan><tspan x="1720" dy="14.7">+ finished_request()</tspan><tspan x="1720" dy="14.7">+ wait()</tspan><tspan x="1720" dy="14.7">+ register_handler()</tspan><tspan x="1720" dy="14.7">+ non_blocking()</tspan><tspan x="1720" dy="14.7">+ can_process_upcalls()</tspan><tspan x="1720" dy="14.7">+ defer_upcall()</tspan><tspan x="1720" dy="14.7">+ is_registered()</tspan><tspan x="1720" dy="14.7">+ is_registered()</tspan></text></g>

<g id="mux_strategy"><rect class="b" x="1913" y="4775" width="219" height="236"/><path class="sb" d="M1913,4799H2132M1913,4825H2132"/>
<text class="c" x="2022" y="4792">TAO_Transport_Mux_Strategy</text>
<text x="1923" y="4840"><tspan x="1923" dy="0">+ TAO_Transport_Mux_Strategy()</tspan><tspan x="1923" dy="14.7">+ ~TAO_Transport_Mux</tspan><tspan x="1923" dy="14.7">_Strategy()</tspan><tspan x="1923" dy="14.7">+ request_id()</tspan><tspan x="1923" dy="14.7">+ bind_dispatcher()</tspan><tspan x="1923" dy="14.7">+ unbind_dispatcher()</tspan><tspan x="1923" dy="14.7">+ reply_timed_out()</tspan><tspan x="1923" dy="14.7">+ dispatch_reply()</tspan><tspan x="1923" dy="14.7">+ idle_after_send()</tspan><tspan x="1923" dy="14.7">+ idle_after_reply()</tspan><tspan x="1923" dy="14.7">+ connection_closed()</tspan><tspan x="1923" dy="14.7">+ has_request()</tspan></text></g>
</svg>
